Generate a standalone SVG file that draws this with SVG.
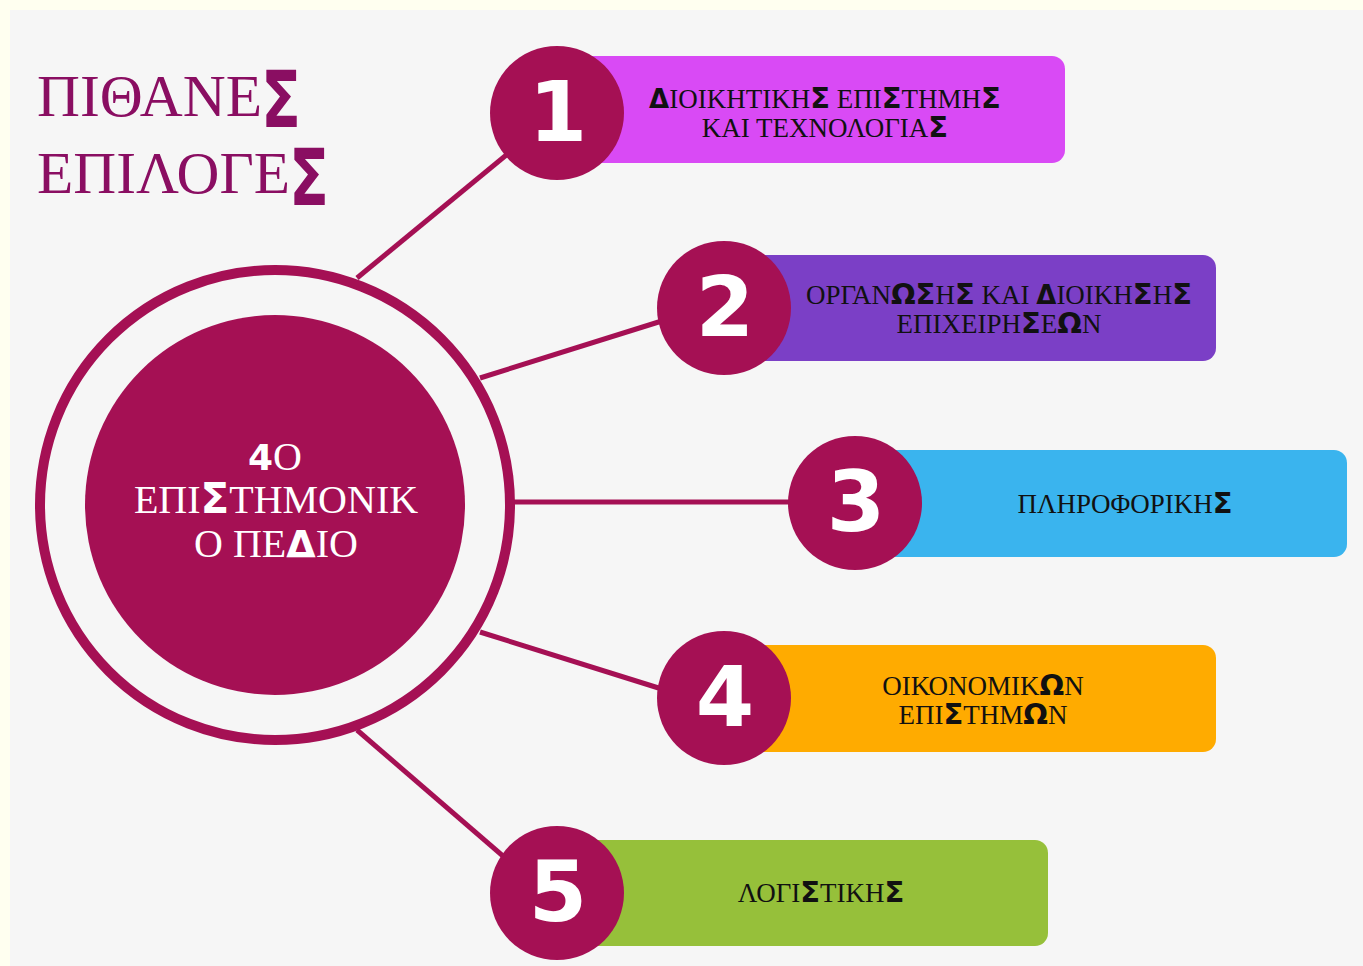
<svg xmlns="http://www.w3.org/2000/svg" width="1363" height="966" viewBox="0 0 1363 966">
<style>
.serif{font-family:"Liberation Serif","DejaVu Serif",serif}
.g{font-family:"DejaVu Sans","Liberation Sans",sans-serif;font-weight:bold}
.lbl{font-size:27px;fill:#111;text-anchor:middle}
.num{font-family:"DejaVu Sans","Liberation Sans",sans-serif;font-weight:bold;font-size:84px;fill:#fff;text-anchor:middle}
.conn{stroke:#a51054;stroke-width:5;fill:none}
.badge{fill:#a51054}
</style>
<rect width="1363" height="966" fill="#fffff0"/>
<rect x="10" y="10" width="1353" height="956" fill="#f6f6f6"/>
<g id="title" class="serif" fill="#8a0e62" font-size="60">
<text x="37" y="116" textLength="225" lengthAdjust="spacingAndGlyphs">ΠΙΘΑΝΕ</text>
<text x="261" y="127" class="g" font-size="78" textLength="40" lengthAdjust="spacingAndGlyphs">Σ</text>
<text x="37" y="193" textLength="253" lengthAdjust="spacingAndGlyphs">ΕΠΙΛΟΓΕ</text>
<text x="289" y="205" class="g" font-size="78" textLength="40" lengthAdjust="spacingAndGlyphs">Σ</text>
</g>
<g id="connectors">
<line class="conn" x1="357" y1="278" x2="510" y2="152"/>
<line class="conn" x1="480" y1="378" x2="665" y2="320"/>
<line class="conn" x1="512" y1="502" x2="795" y2="502"/>
<line class="conn" x1="480" y1="632" x2="665" y2="690"/>
<line class="conn" x1="357" y1="730" x2="510" y2="862"/>
</g>
<g id="center">
<circle cx="275" cy="505" r="235" fill="none" stroke="#a51054" stroke-width="10"/>
<circle cx="275" cy="505" r="190" fill="#a51054"/>
<g class="serif" fill="#fff" font-size="40" text-anchor="middle">
<text x="275" y="470"><tspan class="g" font-size="36">4</tspan>Ο</text>
<text x="276" y="513">ΕΠΙ<tspan class="g" font-size="42">Σ</tspan>ΤΗΜΟΝΙΚ</text>
<text x="276" y="557">Ο ΠΕ<tspan class="g" font-size="38">Δ</tspan>ΙΟ</text>
</g>
</g>
<g id="node1">
<rect x="575" y="56" width="490" height="107" rx="13" fill="#d94af5"/>
<circle class="badge" cx="557" cy="113" r="67"/>
<text class="num" x="558" y="141">1</text>
<g class="serif lbl"><text x="825" y="108"><tspan class="g" font-size="26">Δ</tspan>ΙΟΙΚΗΤΙΚΗ<tspan class="g" font-size="29">Σ</tspan> ΕΠΙ<tspan class="g" font-size="29">Σ</tspan>ΤΗΜΗ<tspan class="g" font-size="29">Σ</tspan></text>
<text x="825" y="137">ΚΑΙ ΤΕΧΝΟΛΟΓΙΑ<tspan class="g" font-size="29">Σ</tspan></text></g>
</g>
<g id="node2">
<rect x="745" y="255" width="471" height="106" rx="13" fill="#7b3fc6"/>
<circle class="badge" cx="724" cy="308" r="67"/>
<text class="num" x="725" y="336">2</text>
<g class="serif lbl"><text x="999" y="304">ΟΡΓΑΝ<tspan class="g" font-size="29">ΩΣ</tspan>Η<tspan class="g" font-size="29">Σ</tspan> ΚΑΙ <tspan class="g" font-size="26">Δ</tspan>ΙΟΙΚΗ<tspan class="g" font-size="29">Σ</tspan>Η<tspan class="g" font-size="29">Σ</tspan></text>
<text x="999" y="333">ΕΠΙΧΕΙΡΗ<tspan class="g" font-size="29">Σ</tspan>Ε<tspan class="g" font-size="29">Ω</tspan>Ν</text></g>
</g>
<g id="node3">
<rect x="875" y="450" width="472" height="107" rx="13" fill="#3ab4ee"/>
<circle class="badge" cx="855" cy="503" r="67"/>
<text class="num" x="856" y="531">3</text>
<g class="serif lbl"><text x="1125" y="513">ΠΛΗΡΟΦΟΡΙΚΗ<tspan class="g" font-size="29">Σ</tspan></text></g>
</g>
<g id="node4">
<rect x="745" y="645" width="471" height="107" rx="13" fill="#ffab00"/>
<circle class="badge" cx="724" cy="698" r="67"/>
<text class="num" x="725" y="726">4</text>
<g class="serif lbl"><text x="983" y="695">ΟΙΚΟΝΟΜΙΚ<tspan class="g" font-size="29">Ω</tspan>Ν</text>
<text x="983" y="724">ΕΠΙ<tspan class="g" font-size="29">Σ</tspan>ΤΗΜ<tspan class="g" font-size="29">Ω</tspan>Ν</text></g>
</g>
<g id="node5">
<rect x="575" y="840" width="473" height="106" rx="13" fill="#96c03a"/>
<circle class="badge" cx="557" cy="893" r="67"/>
<text class="num" x="558" y="921">5</text>
<g class="serif lbl"><text x="821" y="902">ΛΟΓΙ<tspan class="g" font-size="29">Σ</tspan>ΤΙΚΗ<tspan class="g" font-size="29">Σ</tspan></text></g>
</g>
</svg>
